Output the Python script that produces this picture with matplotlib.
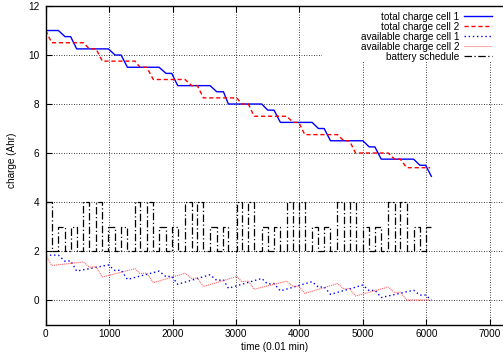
import numpy as np
import matplotlib
matplotlib.use("Agg")
import matplotlib.pyplot as plt
from matplotlib.patches import Rectangle

plt.rcParams['font.family'] = ['Liberation Sans', 'DejaVu Sans']
plt.rcParams['font.size'] = 7.2

# total charge, cell 1 (blue solid)
tc1_t = [0, 200, 304, 393, 488, 988, 1093, 1188, 1288, 1787, 1897, 1987, 2081,
         2591, 2697, 2802, 2880, 3406, 3500, 3600, 3700, 4200, 4300, 4390, 4490,
         5000, 5100, 5190, 5290, 5800, 5900, 5990, 6080]
tc1_y = [11.0, 11.0, 10.75, 10.75, 10.25, 10.25, 10.0, 10.0, 9.5, 9.5, 9.25, 9.25, 8.75,
         8.75, 8.5, 8.5, 8.0, 8.0, 7.75, 7.75, 7.25, 7.25, 7.0, 7.0, 6.5,
         6.5, 6.25, 6.25, 5.75, 5.75, 5.5, 5.5, 5.05]

# total charge, cell 2 (red dashed)
tc2_t = [0, 94, 594, 688, 793, 893, 1408, 1487, 1592, 1697, 2197, 2302, 2391, 2486,
         3012, 3091, 3195, 3285, 3800, 3900, 3990, 4085, 4600, 4700, 4790, 4885,
         5400, 5500, 5590, 5693, 6060]
tc2_y = [11.0, 10.5, 10.5, 10.25, 10.25, 9.75, 9.75, 9.5, 9.5, 9.0, 9.0, 8.75, 8.75, 8.25,
         8.25, 8.0, 8.0, 7.5, 7.5, 7.25, 7.25, 6.75, 6.75, 6.5, 6.5, 6.0,
         6.0, 5.75, 5.75, 5.4, 5.4]

# available charge, cell 1 (blue dotted)
ac1_t = [0, 200, 304, 393, 488, 988, 1093, 1188, 1288, 1787, 1897, 1987, 2081,
         2591, 2697, 2802, 2880, 3406, 3500, 3600, 3700, 4200, 4300, 4390, 4490,
         5000, 5100, 5190, 5290, 5800, 5900, 5990, 6080]
ac1_y = [1.83, 1.83, 1.58, 1.6, 1.18, 1.43, 1.2, 1.22, 0.84, 1.18, 0.95, 0.97, 0.64,
         1.03, 0.8, 0.82, 0.48, 0.88, 0.65, 0.67, 0.37, 0.75, 0.52, 0.54, 0.23,
         0.61, 0.38, 0.4, 0.1, 0.4, 0.2, 0.2, 0.0]

# available charge, cell 2 (red fine dots)
ac2_t = [0, 94, 594, 688, 793, 893, 1408, 1487, 1592, 1697, 2197, 2302, 2391, 2486,
         3012, 3091, 3195, 3285, 3800, 3900, 3990, 4085, 4600, 4700, 4790, 4885,
         5400, 5500, 5590, 5693, 6060]
ac2_y = [1.83, 1.41, 1.55, 1.34, 1.36, 0.94, 1.28, 1.08, 1.1, 0.71, 1.09, 0.88, 0.9, 0.55,
         0.96, 0.75, 0.77, 0.44, 0.77, 0.55, 0.57, 0.27, 0.67, 0.45, 0.47, 0.16,
         0.53, 0.3, 0.32, 0.0, 0.0]

# battery schedule: level switches (step, value holds until next time)
sch_t = [0, 94, 200, 304, 393, 488, 594, 688, 793, 893, 988, 1093, 1188, 1288,
         1408, 1487, 1592, 1697, 1787, 1897, 1987, 2081, 2197, 2302, 2391, 2486,
         2591, 2697, 2802, 2880, 3012, 3091, 3195, 3285, 3406, 3500, 3600, 3700,
         3800, 3900, 3990, 4085, 4200, 4300, 4390, 4490, 4600, 4700, 4790, 4885,
         5000, 5100, 5190, 5290, 5400, 5500, 5590, 5693, 5800, 5900, 5990, 6080]
sch_v = [4, 2, 3, 2, 3, 2, 4, 2, 4, 2, 3, 2, 3, 2,
         4, 2, 4, 2, 3, 2, 3, 2, 4, 2, 4, 2,
         3, 2, 3, 2, 4, 2, 4, 2, 3, 2, 3, 2,
         4, 2, 4, 2, 3, 2, 3, 2, 4, 2, 4, 2,
         3, 2, 3, 2, 4, 2, 4, 2, 3, 2, 3, 3]

fig = plt.figure(figsize=(5.03, 3.6), dpi=100)
ax = fig.add_axes([0.0909, 0.0986, 0.9091, 0.8847])

ax.plot(tc1_t, tc1_y, color='#0000ff', lw=1.0, label='total charge cell 1')
ax.plot(tc2_t, tc2_y, color='#ff0000', lw=1.0, ls=(0, (3, 2)), label='total charge cell 2')
ax.plot(ac1_t, ac1_y, color='#0000ff', lw=1.0, ls=(0, (1, 2)), label='available charge cell 1')
ax.plot(ac2_t, ac2_y, color='#ff4040', lw=0.8, ls=(0, (1, 0.8)), alpha=0.8,
        label='available charge cell 2')
ax.step(sch_t, sch_v, where='post', color='black', lw=0.9, ls=(0, (6, 2, 1, 2)),
        label='battery schedule')

ax.set_xlim(0, 7210)
ax.set_ylim(-1, 12)
ax.set_xticks(np.arange(0, 7001, 1000))
ax.set_yticks(np.arange(0, 13, 2))
ax.grid(True, color='black', ls=(0, (1, 2)), lw=0.6)
ax.tick_params(direction='in', length=4, width=0.8, top=True, right=False, labelsize=7.2)
ax.tick_params(axis='x', pad=3.5)
ax.tick_params(axis='y', pad=4.6)
ax.spines['right'].set_visible(False)
for s in ['left', 'bottom', 'top']:
    ax.spines[s].set_linewidth(1.0)

ax.set_xlabel('time (0.01 min)')
ax.set_ylabel('charge (Ahr)')
ax.yaxis.set_label_coords(-0.062, 0.516)
ax.xaxis.set_label_coords(0.5, -0.055)

# white box behind key, hides grid
ax.add_patch(Rectangle((0.604, 0.825), 0.4, 0.18, transform=ax.transAxes,
                       facecolor='white', edgecolor='none', zorder=1.6))

leg = ax.legend(loc='upper right', frameon=False, markerfirst=False, handlelength=2.8,
                handletextpad=0.5, labelspacing=0.0, borderaxespad=0.0,
                borderpad=0.4, bbox_to_anchor=(0.985, 0.994))
for vp in leg._legend_handle_box.get_children():
    vp.align = 'right'

fig.savefig('out.png', dpi=100)
